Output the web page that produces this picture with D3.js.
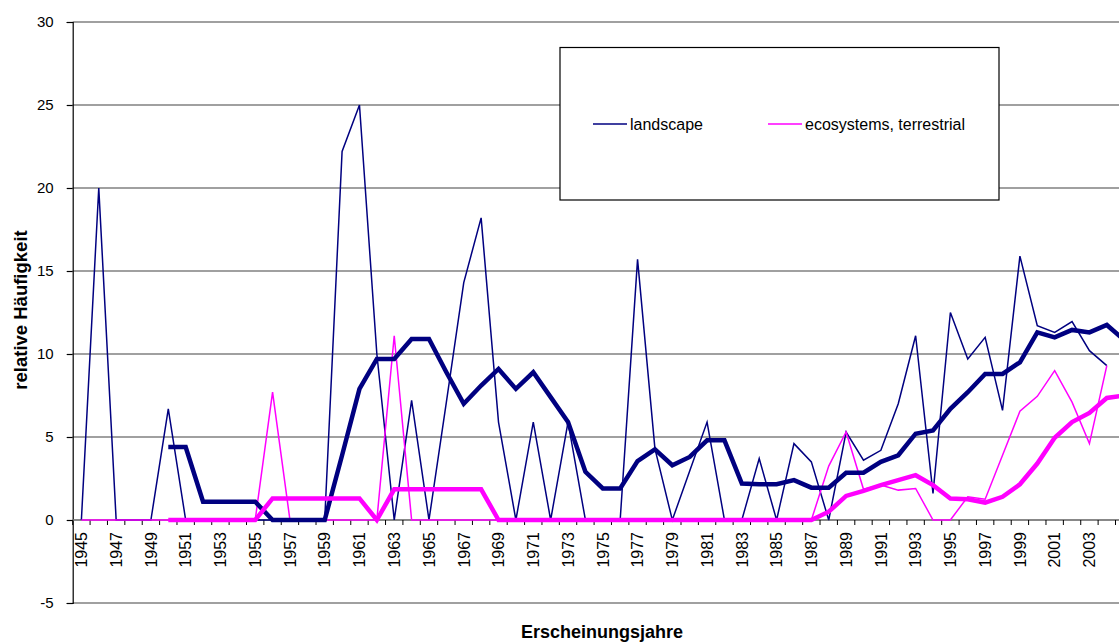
<!DOCTYPE html>
<html>
<head>
<meta charset="utf-8">
<script src="https://cdn.jsdelivr.net/npm/d3@7/dist/d3.min.js"></script>
<style>
  html, body { margin: 0; padding: 0; background: #fff; }
  svg { display: block; font-family: "Liberation Sans", Arial, sans-serif; }
</style>
</head>
<body>
<svg id="chart" width="1119" height="642"></svg>
<script>
// ---- data ----
const years = d3.range(1945, 2006);
const tickYears = d3.range(1945, 2004, 2);
const yTicks = [-5, 0, 5, 10, 15, 20, 25, 30];
const seriesNames = ["landscape", "ecosystems, terrestrial"];

const landscape = [
  0, 20, 0, 0, 0, 6.7, 0, 0, 0, 0,            // 1945-1954
  0, 0, 0, 0, 0, 22.2, 25, 10.0, 0, 7.2,      // 1955-1964
  0, 7.1, 14.3, 18.2, 5.9, 0, 5.9, 0, 5.9, 0, // 1965-1974
  0, 0, 15.7, 4.3, 0, 2.95, 5.9, 0, 0, 3.7,   // 1975-1984
  0, 4.6, 3.5, 0, 5.3, 3.6, 4.2, 7.0, 11.1, 1.6, // 1985-1994
  12.5, 9.7, 11.0, 6.6, 15.9, 11.7, 11.3, 11.95, 10.2, 9.3, // 1995-2004
  null                                          // 2005
];
const ecosystems = [
  0, 0, 0, 0, 0, 0, 0, 0, 0, 0,
  0, 7.7, 0, 0, 0, 0, 0, 0, 11.1, 0,
  0, 0, 0, 0, 0, 0, 0, 0, 0, 0,
  0, 0, 0, 0, 0, 0, 0, 0, 0, 0,
  0, 0, 0, 3.25, 5.3, 1.85, 2.1, 1.8, 1.9, 0,
  0, 1.4, 1.25, 3.9, 6.55, 7.45, 9.0, 7.1, 4.6, 9.3,
  null
];
const landscapeTrend = [
  null, null, null, null, null, 4.4, 4.4, 1.1, 1.1, 1.1,
  1.1, 0, 0, 0, 0, 3.9, 7.9, 9.7, 9.7, 10.9,
  10.9, 8.9, 7.0, 8.1, 9.1, 7.9, 8.9, 7.4, 5.9, 2.9,
  1.9, 1.9, 3.55, 4.25, 3.3, 3.8, 4.8, 4.8, 2.2, 2.15,
  2.15, 2.4, 1.95, 1.95, 2.85, 2.85, 3.5, 3.9, 5.2, 5.4,
  6.7, 7.7, 8.8, 8.8, 9.5, 11.3, 11.0, 11.45, 11.3, 11.75,
  10.85
];
const ecosystemsTrend = [
  null, null, null, null, null, 0, 0, 0, 0, 0,
  0, 1.3, 1.3, 1.3, 1.3, 1.3, 1.3, 0, 1.85, 1.85,
  1.85, 1.85, 1.85, 1.85, 0, 0, 0, 0, 0, 0,
  0, 0, 0, 0, 0, 0, 0, 0, 0, 0,
  0, 0, 0, 0.5, 1.45, 1.75, 2.1, 2.4, 2.7, 2.1,
  1.3, 1.25, 1.05, 1.4, 2.15, 3.4, 4.95, 5.9, 6.45, 7.35,
  7.5
];
const colors = ["#000080", "#FF00FF"];

// ---- layout ----
const svg = d3.select("#chart");
const plotLeft = 72.7, step = 17.38;
const plotRight = plotLeft + step * years.length;
const plotTop = 22, plotBottom = 603;

const x = d3.scaleBand().domain(years).range([plotLeft, plotRight]).padding(0);
const y = d3.scaleLinear().domain([-5, 30]).range([plotBottom, plotTop]);
const cx = d => x(d) + x.bandwidth() / 2;

// gridlines
svg.append("g").selectAll("line").data(yTicks).join("line")
  .attr("x1", plotLeft).attr("x2", plotRight)
  .attr("y1", d => y(d)).attr("y2", d => y(d))
  .attr("stroke", "#808080").attr("stroke-width", 1.3);

// y axis
const yAxis = svg.append("g").attr("transform", `translate(${plotLeft},0)`)
  .call(d3.axisLeft(y).tickValues(yTicks).tickSize(6).tickPadding(13).tickFormat(d => String(d)));
yAxis.select(".domain").attr("stroke", "#000").attr("stroke-width", 1.2);
yAxis.selectAll(".tick line").attr("stroke", "#000").attr("stroke-width", 1.2);
yAxis.selectAll("text").attr("font-size", 15).attr("fill", "#000")
  .attr("font-family", "'Liberation Sans', Arial, sans-serif");

// x axis at zero
const xAxisG = svg.append("g").attr("transform", `translate(0,${y(0)})`);
xAxisG.append("line").attr("x1", plotLeft).attr("x2", plotRight).attr("y1", 0).attr("y2", 0)
  .attr("stroke", "#808080").attr("stroke-width", 1.3);
xAxisG.selectAll("line.tk").data(d3.range(years.length + 1)).join("line")
  .attr("class", "tk")
  .attr("x1", i => plotLeft + i * x.bandwidth()).attr("x2", i => plotLeft + i * x.bandwidth())
  .attr("y1", 0).attr("y2", 5)
  .attr("stroke", "#000").attr("stroke-width", 1);
xAxisG.selectAll("text").data(tickYears).join("text")
  .attr("transform", d => `translate(${cx(d)},12) rotate(-90)`)
  .attr("text-anchor", "end").attr("dy", "0.36em")
  .attr("font-size", 16).attr("fill", "#000")
  .text(d => d);

// lines
const line = d3.line()
  .defined(d => d[1] !== null)
  .x(d => cx(d[0])).y(d => y(d[1]));
const pairs = arr => years.map((yr, i) => [yr, arr[i]]);

const g = svg.append("g").attr("fill", "none").attr("stroke-linejoin", "miter");
g.append("path").attr("d", line(pairs(landscape)))
  .attr("stroke", colors[0]).attr("stroke-width", 1.5);
g.append("path").attr("d", line(pairs(ecosystems)))
  .attr("stroke", colors[1]).attr("stroke-width", 1.5);
g.append("path").attr("d", line(pairs(landscapeTrend)))
  .attr("stroke", colors[0]).attr("stroke-width", 4.5);
g.append("path").attr("d", line(pairs(ecosystemsTrend)))
  .attr("stroke", colors[1]).attr("stroke-width", 4.5);

// legend
const lg = svg.append("g");
lg.append("rect").attr("x", 560).attr("y", 47.5).attr("width", 439).attr("height", 152.5)
  .attr("fill", "#fff").attr("stroke", "#000").attr("stroke-width", 1.2);
const legX = [593, 768];
seriesNames.forEach((n, i) => {
  lg.append("line").attr("x1", legX[i]).attr("x2", legX[i] + 34)
    .attr("y1", 124).attr("y2", 124)
    .attr("stroke", colors[i]).attr("stroke-width", 1.5);
  lg.append("text").attr("x", legX[i] + 37).attr("y", 124).attr("dy", "0.35em")
    .attr("font-size", 16).attr("fill", "#000").text(n);
});

// axis titles
svg.append("text").attr("transform", `translate(21,310) rotate(-90)`)
  .attr("text-anchor", "middle").attr("dy", "0.35em")
  .attr("font-size", 18.5).attr("font-weight", "bold").text("relative Häufigkeit");
svg.append("text").attr("x", 602).attr("y", 638)
  .attr("text-anchor", "middle")
  .attr("font-size", 18).attr("font-weight", "bold").text("Erscheinungsjahre");
</script>
</body>
</html>
